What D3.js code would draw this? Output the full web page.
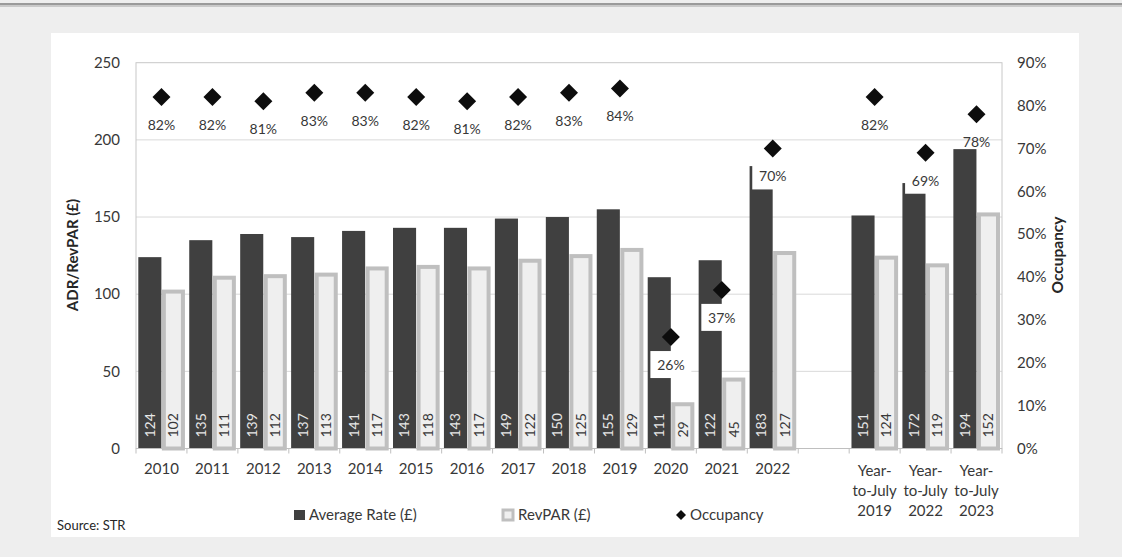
<!DOCTYPE html>
<html>
<head>
<meta charset="utf-8">
<script src="https://cdn.jsdelivr.net/npm/d3@7"></script>
<style>
  html, body { margin: 0; padding: 0; background: #eeeeee; }
  svg { display: block; font-family: Lato, "Open Sans", sans-serif; }
</style>
</head>
<body>
<svg id="chart" width="1122" height="557"></svg>
<script>
// Hotel performance: average daily rate, RevPAR and occupancy
const categories = ["2010", "2011", "2012", "2013", "2014", "2015", "2016", "2017", "2018", "2019",
  "2020", "2021", "2022", "Year-to-July 2019", "Year-to-July 2022", "Year-to-July 2023"];
const averageRate = [124, 135, 139, 137, 141, 143, 143, 149, 150, 155, 111, 122, 183, 151, 172, 194];
const revpar = [102, 111, 112, 113, 117, 118, 117, 122, 125, 129, 29, 45, 127, 124, 119, 152];
const occupancy = [82, 82, 81, 83, 83, 82, 81, 82, 83, 84, 26, 37, 70, 82, 69, 78];
const leftTicks = [0, 50, 100, 150, 200, 250];
const rightTicks = [0, 10, 20, 30, 40, 50, 60, 70, 80, 90];
const seriesNames = ["Average Rate (£)", "RevPAR (£)", "Occupancy"];
// occupancy labels that sit on a white backing where they cross a bar
const backedLabels = ["2020", "2021", "2022", "Year-to-July 2022"];

const svg = d3.select("#chart");
const C = { dark: "#404040", lightFill: "#efefef", lightStroke: "#bfbfbf", grid: "#d9d9d9", text: "#383838" };

// page frame
svg.append("rect").attr("x", 0).attr("y", 3).attr("width", 1122).attr("height", 2).attr("fill", "#9a9a9a");
svg.append("rect").attr("x", 0).attr("y", 5).attr("width", 1122).attr("height", 2).attr("fill", "#c9c9c9");
svg.append("rect").attr("x", 51).attr("y", 33).attr("width", 1028).attr("height", 504).attr("fill", "#ffffff");

const plot = { left: 136, right: 1002, top: 62.7, bottom: 448.5 };

// a blank slot separates the calendar years from the year-to-date periods
const spacer = "__gap__";
const domain = categories.slice(0, 13).concat([spacer], categories.slice(13));
const x = d3.scaleBand().domain(domain).range([plot.left, plot.right]).padding(0);
const x1 = d3.scaleBand().domain(["adr", "revpar"]).range([2.3, x.bandwidth() - 2]).paddingInner(0.02);
const y = d3.scaleLinear().domain([0, 250]).range([plot.bottom, plot.top]);
const yOcc = d3.scaleLinear().domain([0, 90]).range([plot.bottom, plot.top]);

// gridlines
svg.append("g").selectAll("line").data(leftTicks.filter(t => t > 0 && t < 250)).join("line")
  .attr("x1", plot.left).attr("x2", plot.right)
  .attr("y1", d => y(d)).attr("y2", d => y(d))
  .attr("stroke", C.grid).attr("stroke-width", 1);

// plot border
svg.append("rect").attr("x", plot.left).attr("y", plot.top)
  .attr("width", plot.right - plot.left).attr("height", plot.bottom - plot.top)
  .attr("fill", "none").attr("stroke", "#c8c8c8").attr("stroke-width", 1);

const rows = categories.map((c, i) => ({ cat: c, adr: averageRate[i], rev: revpar[i], occ: occupancy[i] }));

// Average Rate bars
svg.append("g").selectAll("rect").data(rows).join("rect")
  .attr("x", d => x(d.cat) + x1("adr"))
  .attr("y", d => y(d.adr))
  .attr("width", x1.bandwidth())
  .attr("height", d => y(0) - y(d.adr))
  .attr("fill", C.dark);

// RevPAR bars (light fill with a heavy grey outline)
const sw = 4;
svg.append("g").selectAll("rect").data(rows).join("rect")
  .attr("x", d => x(d.cat) + x1("revpar") + sw / 2)
  .attr("y", d => y(d.rev) + 0.5)
  .attr("width", x1.bandwidth() - sw)
  .attr("height", d => y(0) - y(d.rev) - 0.5)
  .attr("fill", C.lightFill).attr("stroke", C.lightStroke).attr("stroke-width", sw);

// value labels inside the bars
const valLabels = svg.append("g").attr("font-size", 14);
rows.forEach(d => {
  [["adr", d.adr, "#e8e8e8"], ["revpar", d.rev, C.text]].forEach(([k, v, col]) => {
    const cx = x(d.cat) + x1(k) + x1.bandwidth() / 2;
    valLabels.append("text")
      .attr("transform", `translate(${cx},${y(0) - 11}) rotate(-90)`)
      .attr("text-anchor", "start").attr("dy", "0.35em")
      .attr("fill", col).text(v);
  });
});

// x axis
svg.append("line").attr("x1", plot.left).attr("x2", plot.right)
  .attr("y1", plot.bottom).attr("y2", plot.bottom).attr("stroke", "#bfbfbf");
const bounds = domain.map(k => x(k)).concat([plot.right]);
svg.append("g").selectAll("line").data(bounds).join("line")
  .attr("x1", d => d).attr("x2", d => d)
  .attr("y1", plot.bottom).attr("y2", plot.bottom + 5)
  .attr("stroke", "#bfbfbf");

const xl = svg.append("g").attr("font-size", 15).attr("fill", C.text).attr("text-anchor", "middle");
categories.forEach(c => {
  const cx = x(c) + x.bandwidth() / 2;
  if (c.startsWith("Year-to-July")) {
    const lines = ["Year-", "to-July", c.split(" ")[1]];
    lines.forEach((l, i) => xl.append("text").attr("x", cx).attr("y", 471 + i * 20).attr("dy", "0.35em").text(l));
  } else {
    xl.append("text").attr("x", cx).attr("y", 469).attr("dy", "0.35em").text(c);
  }
});

// left axis labels
svg.append("g").attr("font-size", 15).attr("fill", C.text).attr("text-anchor", "end")
  .selectAll("text").data(leftTicks).join("text")
  .attr("x", 120).attr("y", d => y(d)).attr("dy", "0.35em").text(d => d);

// right axis labels
svg.append("g").attr("font-size", 15).attr("fill", C.text).attr("text-anchor", "start")
  .selectAll("text").data(rightTicks).join("text")
  .attr("x", 1017).attr("y", d => yOcc(d)).attr("dy", "0.35em").text(d => d + "%");

// axis titles
svg.append("text").attr("transform", "translate(73,255) rotate(-90)")
  .attr("text-anchor", "middle").attr("dy", "0.35em")
  .attr("font-size", 15).attr("font-weight", "bold").attr("fill", "#262626").text("ADR/RevPAR (£)");
svg.append("text").attr("transform", "translate(1058,255) rotate(-90)")
  .attr("text-anchor", "middle").attr("dy", "0.35em")
  .attr("font-size", 15.5).attr("font-weight", "bold").attr("fill", "#262626").text("Occupancy");

// occupancy markers and labels
const diamond = d3.symbol().type(d3.symbolSquare).size(162);
const occG = svg.append("g");
rows.forEach(d => {
  const cx = x(d.cat) + x.bandwidth() / 2;
  const cy = yOcc(d.occ);
  occG.append("path").attr("d", diamond())
    .attr("transform", `translate(${cx},${cy}) rotate(45)`).attr("fill", "#0d0d0d");
  const ly = cy + 28;
  if (backedLabels.includes(d.cat)) {
    occG.append("rect").attr("x", cx - 20.5).attr("y", ly - 14).attr("width", 41).attr("height", 27).attr("fill", "#ffffff");
  }
  occG.append("text").attr("x", cx).attr("y", ly).attr("dy", "0.35em")
    .attr("text-anchor", "middle").attr("font-size", 14).attr("fill", C.text).text(d.occ + "%");
});

// legend
const lg = svg.append("g").attr("font-size", 15).attr("fill", C.text);
const legY = 515;
lg.append("rect").attr("x", 294).attr("y", legY - 5).attr("width", 11).attr("height", 10).attr("fill", C.dark);
lg.append("text").attr("x", 309).attr("y", legY).attr("dy", "0.35em").text(seriesNames[0]);
lg.append("rect").attr("x", 503).attr("y", legY - 5).attr("width", 10).attr("height", 10)
  .attr("fill", C.lightFill).attr("stroke", C.lightStroke).attr("stroke-width", 3);
lg.append("text").attr("x", 518).attr("y", legY).attr("dy", "0.35em").text(seriesNames[1]);
lg.append("path").attr("d", d3.symbol().type(d3.symbolSquare).size(50)())
  .attr("transform", `translate(681,${legY}) rotate(45)`).attr("fill", "#0d0d0d");
lg.append("text").attr("x", 690).attr("y", legY).attr("dy", "0.35em").text(seriesNames[2]);

// source note
svg.append("text").attr("x", 57).attr("y", 525).attr("dy", "0.35em")
  .attr("font-size", 13).attr("fill", "#262626").text("Source: STR");
</script>
</body>
</html>
